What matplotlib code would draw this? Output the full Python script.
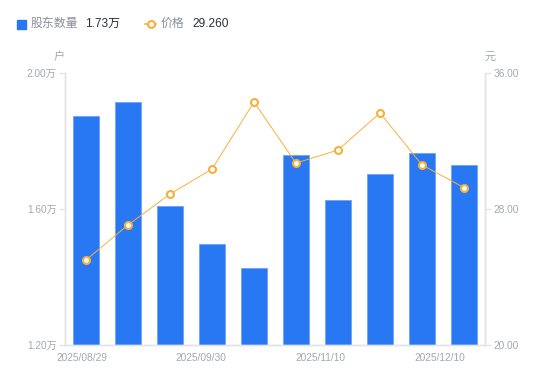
import numpy as np
import matplotlib.pyplot as plt

plt.rcParams['font.family'] = ['Liberation Sans', 'Noto Sans CJK SC', 'DejaVu Sans']

# data
holders = [1.873, 1.915, 1.609, 1.497, 1.426, 1.759, 1.626, 1.703, 1.765, 1.73]  # 万户
price = [25.0, 27.06, 28.88, 30.35, 34.29, 30.7, 31.47, 33.65, 30.59, 29.26]  # 元
tick_text = ['2025/08/29', '2025/09/30', '2025/11/10', '2025/12/10']

blue = '#2878f4'
orange = '#f7b03a'
gray_txt = '#a3a7b5'
axis_col = '#e3e4e8'

fig = plt.figure(figsize=(5.5, 3.81), dpi=100)
ax = fig.add_axes([65 / 550, 36 / 381, 420 / 550, 272 / 381])
x = np.arange(len(holders))

ax.bar(x, holders, width=0.6, color=blue, edgecolor='#6fa3f7', linewidth=0.6, zorder=2)
ax.set_xlim(-0.5, len(holders) - 0.5)
ax.set_ylim(1.2, 2.0)
ax.set_yticks([1.2, 1.6, 2.0])
ax.set_yticklabels(['1.20万', '1.60万', '2.00万'])

ax2 = ax.twinx()
ax2.plot(x, price, color=orange, lw=0.7, marker='o', ms=5, mfc='white',
         mec=orange, mew=1.5, zorder=3)
ax2.set_ylim(20, 36)
ax2.set_yticks([20, 28, 36])
ax2.set_yticklabels(['20.00', '28.00', '36.00'])

for a in (ax, ax2):
    for s in a.spines.values():
        s.set_color(axis_col)
        s.set_linewidth(1.0)
    a.spines['top'].set_visible(False)
    a.tick_params(axis='y', colors=axis_col, labelcolor=gray_txt, labelsize=7.3,
                  length=4, width=1.0, pad=2)

# date labels are spread evenly along the axis, not pinned to bars
ax.set_xticks(np.linspace(-0.1, 8.43, 4))
ax.set_xticklabels(tick_text)
ax.tick_params(axis='x', length=0, labelcolor=gray_txt, labelsize=7.3, pad=6)

# units
fig.text(59 / 550, 1 - 57 / 381, '户', color=gray_txt, fontsize=8, ha='center', va='center')
fig.text(490 / 550, 1 - 57 / 381, '元', color=gray_txt, fontsize=8, ha='center', va='center')

# legend row
fig.patches.append(plt.Rectangle((17 / 550, 1 - 29 / 381), 9 / 550, 9 / 381,
                                 transform=fig.transFigure, color=blue))
fig.text(31 / 550, 1 - 24 / 381, '股东数量', color='#8a8f9c', fontsize=8.6, va='center')
fig.text(85 / 550, 1 - 24 / 381, '1.73万', color='#2b2f38', fontsize=8.6, va='center')
fig.lines.append(plt.Line2D([145 / 550, 156 / 550], [1 - 24 / 381] * 2, transform=fig.transFigure,
                            color=orange, lw=1.2))
fig.lines.append(plt.Line2D([150.5 / 550], [1 - 24 / 381], transform=fig.transFigure,
                            color=orange, marker='o', ms=5, mfc='white', mec=orange, mew=1.5))
fig.text(161 / 550, 1 - 24 / 381, '价格', color='#8a8f9c', fontsize=8.6, va='center')
fig.text(192 / 550, 1 - 24 / 381, '29.260', color='#2b2f38', fontsize=8.6, va='center')

fig.savefig('out.png', dpi=100)
